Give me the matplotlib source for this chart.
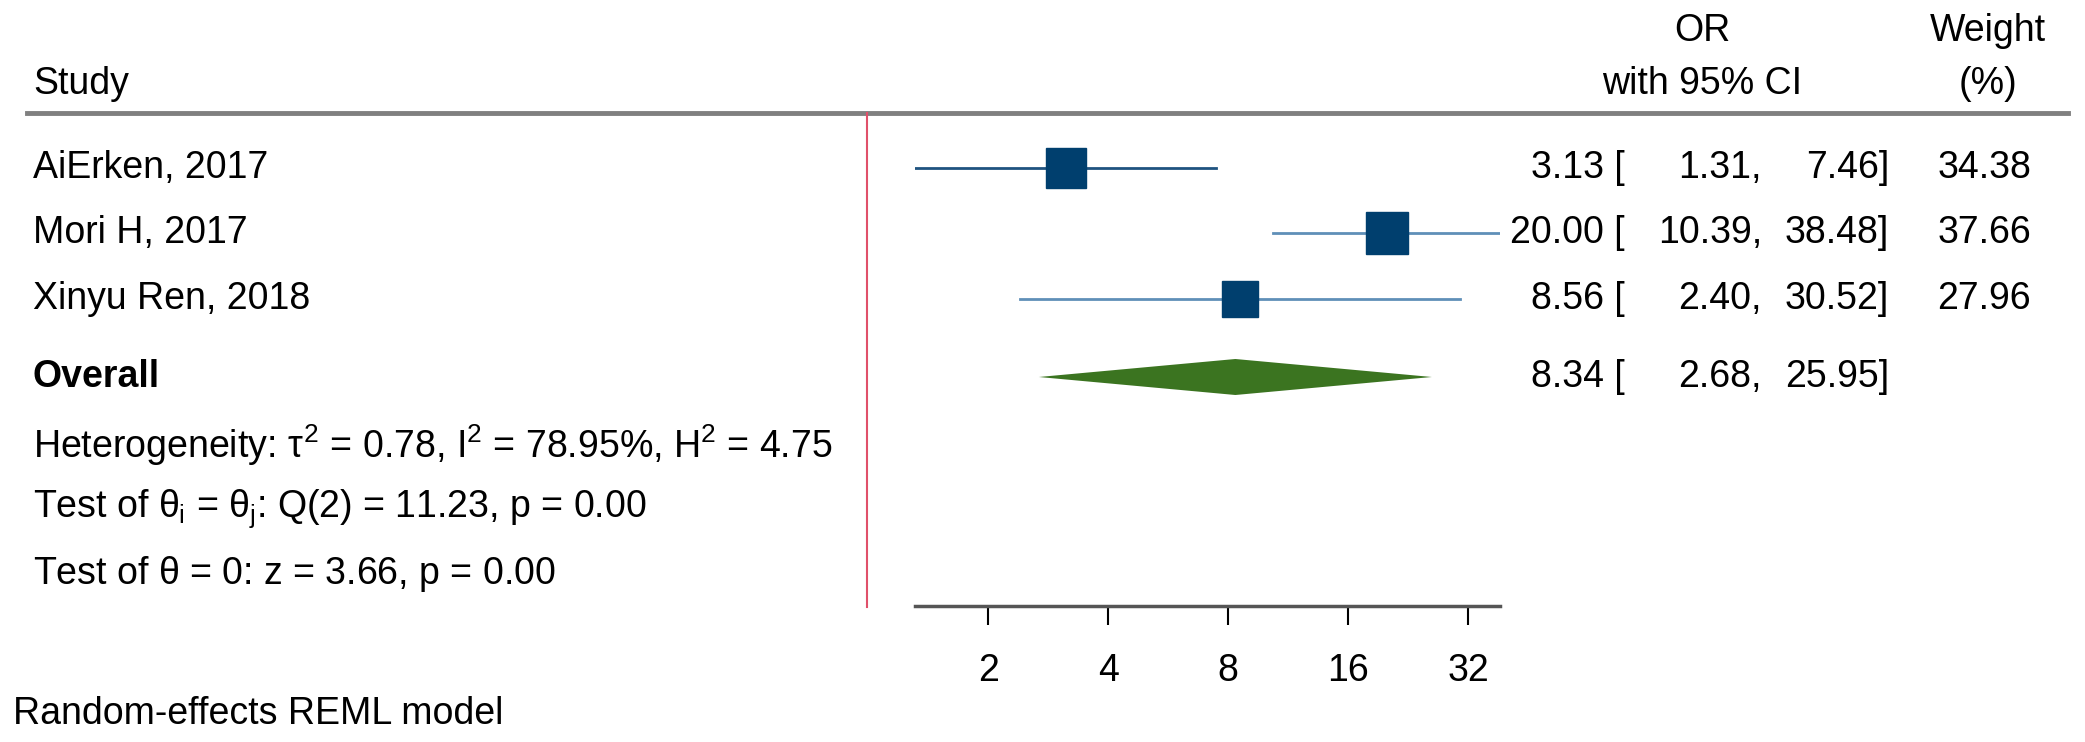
import numpy as np
import matplotlib
matplotlib.use('Agg')
import matplotlib.pyplot as plt

studies = ["AiErken, 2017", "Mori H, 2017", "Xinyu Ren, 2018"]
orr = [3.13, 20.00, 8.56]
lo = [1.31, 10.39, 2.40]
hi = [7.46, 38.48, 30.52]
weight = [34.38, 37.66, 27.96]
ov_or, ov_lo, ov_hi = 8.34, 2.68, 25.95
ticks = [2, 4, 8, 16, 32]
notes = ["Heterogeneity: $\\tau^2$ = 0.78, I$^2$ = 78.95%, H$^2$ = 4.75",
         "Test of $\\theta_i$ = $\\theta_j$: Q(2) = 11.23, p = 0.00",
         "Test of $\\theta$ = 0: z = 3.66, p = 0.00"]

plt.rcParams['font.family'] = ['Liberation Sans', 'DejaVu Sans']
plt.rcParams['mathtext.fontset'] = 'custom'
plt.rcParams['mathtext.rm'] = 'Liberation Sans'
plt.rcParams['mathtext.it'] = 'Liberation Sans'
W, H = 2085, 742
fig = plt.figure(figsize=(W / 100, H / 100), dpi=100)

# overlay in pixel coordinates for text
bg = fig.add_axes([0, 0, 1, 1])
bg.set_xlim(0, W)
bg.set_ylim(H, 0)
bg.axis('off')

fs = 27
rows = [168, 233, 299]
ov_y = 377
note_y = [445, 509, 574]

bg.text(33, 84, "Study", fontsize=fs, va='center')
bg.text(1702, 31, "OR", fontsize=fs, va='center', ha='center')
bg.text(1702, 84, "with 95% CI", fontsize=fs, va='center', ha='center')
bg.text(1988, 31, "Weight", fontsize=fs, va='center', ha='center')
bg.text(1988, 84, "(%)", fontsize=fs, va='center', ha='center')
bg.plot([27, 2068], [113, 113], color='#808080', lw=3.5)
bg.plot([867, 867], [113, 607], color='#e0506a', lw=1.5)

for s, o, l, h, w, y in zip(studies, orr, lo, hi, weight, rows):
    bg.text(33, y, s, fontsize=fs, va='center')
    bg.text(1625, y, "{:.2f} [".format(o), fontsize=fs, va='center', ha='right')
    bg.text(1762, y, "{:.2f},".format(l), fontsize=fs, va='center', ha='right')
    bg.text(1889, y, "{:.2f}]".format(h), fontsize=fs, va='center', ha='right')
    bg.text(2031, y, "{:.2f}".format(w), fontsize=fs, va='center', ha='right')
bg.text(33, ov_y, "Overall", fontsize=fs, va='center', fontweight='bold')
bg.text(1625, ov_y, "{:.2f} [".format(ov_or), fontsize=fs, va='center', ha='right')
bg.text(1762, ov_y, "{:.2f},".format(ov_lo), fontsize=fs, va='center', ha='right')
bg.text(1889, ov_y, "{:.2f}]".format(ov_hi), fontsize=fs, va='center', ha='right')
for t, y in zip(notes, note_y):
    bg.text(33, y, t, fontsize=fs, va='center')
bg.text(13, 714, "Random-effects REML model", fontsize=fs, va='center')

# forest axes, x in log2, y in pixel rows from the reference layout
ax = fig.add_axes([915 / W, 1 - 606 / H, (1500 - 915) / W, (606 - 113) / H])
ax.patch.set_alpha(0)
ax.set_xscale('log', base=2)
ax.set_xlim(min(lo), max(hi))
ax.set_ylim(606, 113)
for o, l, h, w, y, c in zip(orr, lo, hi, weight, rows, ['#1f5380', '#5f8fb8', '#5f8fb8']):
    ax.plot([l, h], [y, y], color=c, lw=2)
    ax.plot(o, y, 's', color='#003f6e', ms=28.8 * np.sqrt(w / weight[0]))
ax.fill([ov_lo, ov_or, ov_hi, ov_or], [ov_y, ov_y - 18, ov_y, ov_y + 18], color='#3b7420', lw=0)
ax.set_xticks(ticks)
ax.set_xticklabels([str(t) for t in ticks], fontsize=fs)
ax.minorticks_off()
ax.tick_params(axis='x', length=14, width=1.5, pad=20)
ax.set_yticks([])
for s in ['top', 'right', 'left']:
    ax.spines[s].set_visible(False)
ax.spines['bottom'].set_linewidth(2.5)
ax.spines['bottom'].set_color('#555555')

fig.savefig("out.png", dpi=100)
